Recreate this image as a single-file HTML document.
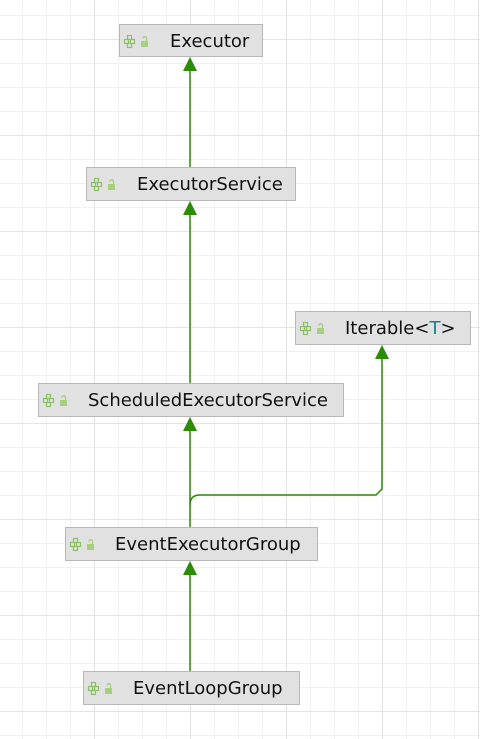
<!DOCTYPE html>
<html><head><meta charset="utf-8"><style>
html,body{margin:0;padding:0;background:#fff;}
svg{display:block}
text{font-family:"DejaVu Sans",sans-serif;font-size:18px;fill:#111;}
</style></head><body>
<svg width="480" height="739" viewBox="0 0 480 739" xmlns="http://www.w3.org/2000/svg">
<defs>
<pattern id="g" x="22" y="15" width="24" height="24" patternUnits="userSpaceOnUse">
<path d="M0.5 0V24M0 0.5H24" stroke="#f1f1f1" stroke-width="1" fill="none"/>
</pattern>
<pattern id="G" x="94" y="39" width="96" height="96" patternUnits="userSpaceOnUse">
<path d="M0.5 0V96M0 0.5H96" stroke="#e4e4e4" stroke-width="1" fill="none"/>
</pattern>
<g id="ic">
<g fill="none" stroke="#8cc063" stroke-width="1.2">
<rect x="3.5" y="-5.5" width="4" height="4"/>
<rect x="0.5" y="-1.5" width="4" height="4"/>
<rect x="6.5" y="-1.5" width="4" height="4"/>
<rect x="3.5" y="2.5" width="4" height="4"/>
</g>
<rect x="17" y="0" width="7" height="6" fill="#a6cf7e"/>
<path d="M22.5 0v-2.5a1.8 1.8 0 0 0 -3.6 0" fill="none" stroke="#a6cf7e" stroke-width="1.3"/>
</g>
</defs>
<rect width="480" height="739" fill="url(#g)"/>
<rect width="480" height="739" fill="url(#G)"/>
<g stroke="#2a8c00" stroke-width="1.5" fill="none">
<line x1="190" y1="70" x2="190" y2="167"/>
<line x1="190" y1="214" x2="190" y2="383"/>
<line x1="190" y1="430" x2="190" y2="527"/>
<line x1="190" y1="574" x2="190" y2="671"/>
<path d="M190 505 Q190 495 200 495 H376 L382 489 V358"/>
</g>
<g fill="#2a8c00">
<polygon points="190,57 183,71 197,71"/>
<polygon points="190,201 183,215 197,215"/>
<polygon points="190,417 183,431 197,431"/>
<polygon points="190,561 183,575 197,575"/>
<polygon points="382,345 375,359 389,359"/>
</g>
<g fill="#e1e1e1" stroke="#b8b8b8" stroke-width="1">
<rect x="119.5" y="24.5" width="143" height="32"/>
<rect x="86.5" y="167.5" width="209" height="33"/>
<rect x="295.5" y="311.5" width="175" height="33"/>
<rect x="38.5" y="383.5" width="305" height="33"/>
<rect x="65.5" y="527.5" width="252" height="33"/>
<rect x="83.5" y="671.5" width="216" height="33"/>
</g>
<use href="#ic" x="124" y="41"/>
<use href="#ic" x="91" y="184"/>
<use href="#ic" x="300" y="328"/>
<use href="#ic" x="43" y="400"/>
<use href="#ic" x="70" y="544"/>
<use href="#ic" x="88" y="688"/>
<text x="170" y="47">Executor</text>
<text x="137" y="190">ExecutorService</text>
<text x="345" y="334">Iterable&lt;<tspan fill="#1a7f8e">T</tspan>&gt;</text>
<text x="88" y="406">ScheduledExecutorService</text>
<text x="115" y="550">EventExecutorGroup</text>
<text x="133" y="694">EventLoopGroup</text>
</svg>
</body></html>
